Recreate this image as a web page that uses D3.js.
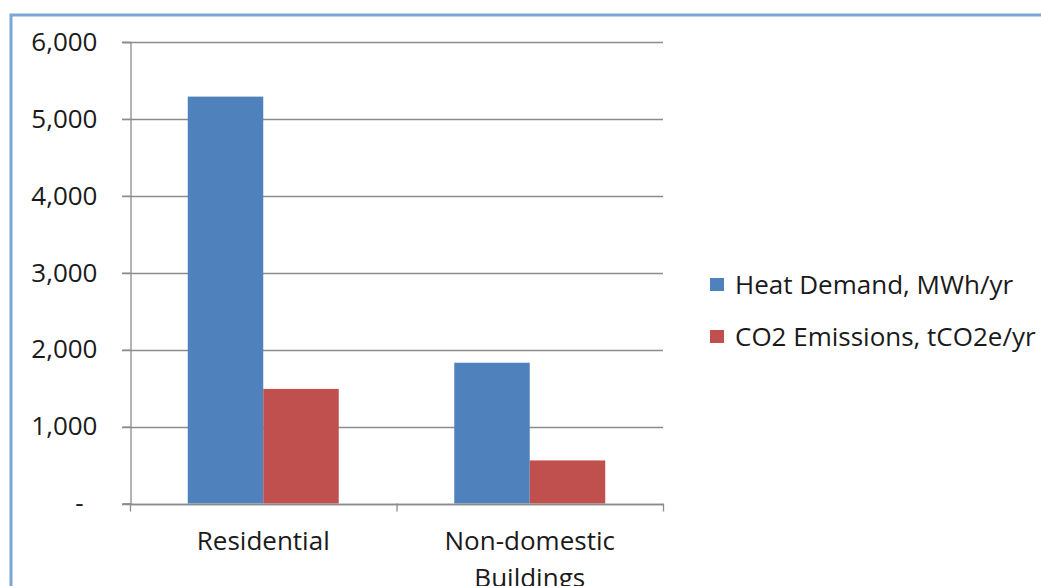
<!DOCTYPE html>
<html>
<head>
<meta charset="utf-8">
<script src="https://cdn.jsdelivr.net/npm/d3@7"></script>
<style>
  html, body { margin: 0; padding: 0; background: #fff; }
  svg { display: block; }
  text { font-family: "Open Sans", "Noto Sans", sans-serif; fill: #1a1a1a; }
</style>
</head>
<body>
<svg id="chart" width="1041" height="586"></svg>
<script>
// Categories and series
const categories = ["Residential", "Non-domestic Buildings"];
const seriesNames = ["Heat Demand, MWh/yr", "CO2 Emissions, tCO2e/yr"];
const heatDemand = [5290, 1830];
const co2Emissions = [1490, 560];
const yTicks = [0, 1000, 2000, 3000, 4000, 5000, 6000];
const seriesColors = ["#4F81BD", "#C0504D"];

const series = [heatDemand, co2Emissions];
const FONT = 26;

const svg = d3.select("#chart");
const W = 1041, H = 586;

// Chart-area border
svg.append("rect")
  .attr("x", 11).attr("y", 15)
  .attr("width", W + 20).attr("height", H + 20)
  .attr("fill", "#fff")
  .attr("stroke", "#7BA7D4")
  .attr("stroke-width", 3);

const plot = { left: 130, right: 663, top: 42, bottom: 503.5 };

const x0 = d3.scaleBand()
  .domain(categories)
  .range([plot.left, plot.right])
  .paddingInner(0)
  .paddingOuter(0);

const x1 = d3.scaleBand()
  .domain(d3.range(series.length))
  .range([0, x0.bandwidth()])
  .paddingInner(0)
  .paddingOuter(0.765);

const y = d3.scaleLinear()
  .domain([0, 6000])
  .range([plot.bottom, plot.top]);

// Horizontal gridlines
svg.append("g")
  .selectAll("line")
  .data(yTicks)
  .join("line")
  .attr("x1", plot.left - 8)
  .attr("x2", plot.right)
  .attr("y1", d => Math.round(y(d)) + 0.5)
  .attr("y2", d => Math.round(y(d)) + 0.5)
  .attr("stroke", "#8c8c8c")
  .attr("stroke-width", 1.3);

// Bars
const groups = svg.append("g")
  .selectAll("g")
  .data(categories)
  .join("g")
  .attr("transform", d => `translate(${x0(d)},0)`);

groups.selectAll("rect")
  .data((c, ci) => series.map((s, si) => ({ si, v: s[ci] })))
  .join("rect")
  .attr("x", d => x1(d.si))
  .attr("width", x1.bandwidth())
  .attr("y", d => y(d.v))
  .attr("height", d => y(0) - y(d.v))
  .attr("fill", d => seriesColors[d.si]);

// Y axis (accounting-style format: zero shown as a dash)
const yAxis = d3.axisLeft(y)
  .tickValues(yTicks)
  .tickSize(8)
  .tickFormat(d => d === 0 ? "-" : d3.format(",")(d));

const gy = svg.append("g")
  .attr("transform", `translate(${plot.left + 0.5},0)`)
  .call(yAxis);
gy.select(".domain").attr("stroke", "#8c8c8c").attr("stroke-width", 1.3);
gy.selectAll(".tick line").attr("stroke", "#8c8c8c").attr("stroke-width", 1.3);
gy.selectAll(".tick text")
  .attr("x", d => d === 0 ? -47 : -33)
  .attr("font-size", FONT)
  .style("font-family", "'Open Sans', sans-serif")
  .attr("fill", "#1a1a1a");

// X axis baseline and category separators
const gx = svg.append("g");
gx.append("line")
  .attr("x1", plot.left).attr("x2", plot.right)
  .attr("y1", Math.round(y(0)) + 0.5).attr("y2", Math.round(y(0)) + 0.5)
  .attr("stroke", "#8c8c8c").attr("stroke-width", 1.3);
const sepX = [plot.left, ...categories.slice(1).map(c => x0(c)), plot.right];
gx.selectAll("line.sep")
  .data(sepX)
  .join("line")
  .attr("class", "sep")
  .attr("x1", d => d + 0.5).attr("x2", d => d + 0.5)
  .attr("y1", y(0)).attr("y2", y(0) + 8)
  .attr("stroke", "#8c8c8c").attr("stroke-width", 1.3);

// Category labels (wrapped onto two lines where needed)
const catLines = c => c === "Non-domestic Buildings" ? ["Non-domestic", "Buildings"] : [c];
gx.selectAll("text.cat")
  .data(categories)
  .join("text")
  .attr("class", "cat")
  .attr("text-anchor", "middle")
  .attr("font-size", FONT)
  .attr("x", d => x0(d) + x0.bandwidth() / 2)
  .attr("y", 550)
  .each(function (d) {
    const t = d3.select(this);
    catLines(d).forEach((ln, i) => {
      t.append("tspan")
        .attr("x", x0(d) + x0.bandwidth() / 2)
        .attr("dy", i === 0 ? 0 : 37)
        .text(ln);
    });
  });

// Legend
const legend = svg.append("g").attr("transform", "translate(710,278)");
const li = legend.selectAll("g")
  .data(seriesNames)
  .join("g")
  .attr("transform", (d, i) => `translate(0,${i * 52})`);
li.append("rect")
  .attr("width", 14).attr("height", 13)
  .attr("fill", (d, i) => seriesColors[i]);
li.append("text")
  .attr("x", 25).attr("y", 16)
  .attr("font-size", FONT)
  .text(d => d);
</script>
</body>
</html>
